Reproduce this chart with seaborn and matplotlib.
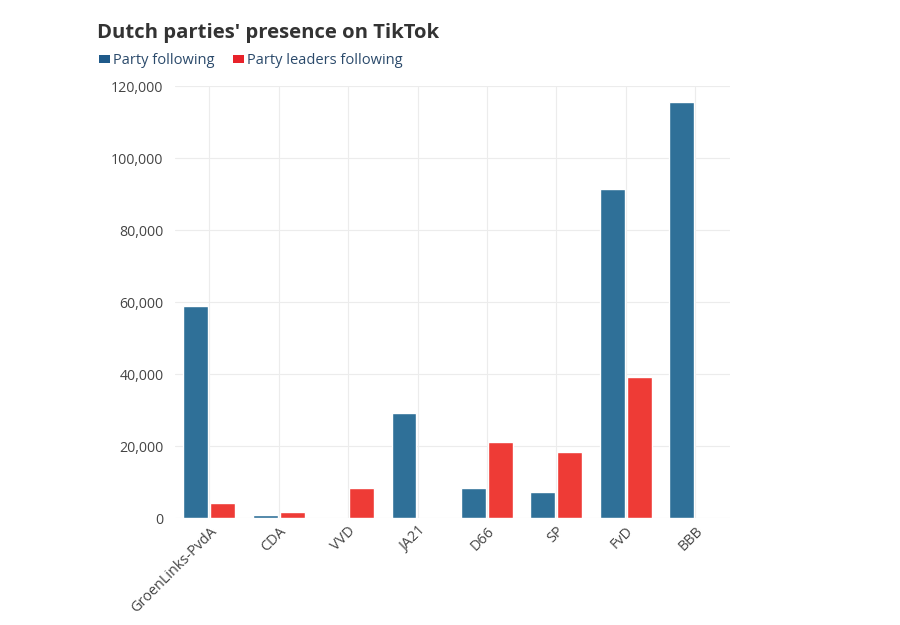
import matplotlib
matplotlib.use("Agg")
import matplotlib.pyplot as plt
import seaborn as sns
import pandas as pd
from matplotlib.patches import Patch
from matplotlib.ticker import FuncFormatter

parties = ["GroenLinks-PvdA", "CDA", "VVD", "JA21", "D66", "SP", "FvD", "BBB"]
party_following = [59000, 800, 0, 29200, 8300, 7200, 91400, 115600]
leader_following = [4200, 1600, 8300, 0, 21100, 18300, 39200, 0]
series = ["Party following", "Party leaders following"]
colors = ["#2f7098", "#ee3b36"]
legend_colors = ["#1f5a8a", "#e8222a"]

df = pd.DataFrame({
    "party": parties * 2,
    "series": [series[0]] * len(parties) + [series[1]] * len(parties),
    "value": party_following + leader_following,
})

sns.set_theme(style="white")
plt.rcParams["font.family"] = ["Open Sans", "DejaVu Sans"]

fig = plt.figure(figsize=(9, 6.25), dpi=100)
ax = fig.add_axes([0.194, 0.171, 0.617, 0.691])

sns.barplot(data=df, x="party", y="value", hue="series", palette=colors,
            width=0.78, gap=0.08, ax=ax, legend=False, saturation=1)

ax.set_ylim(0, 120000)
ax.set_xlim(-0.5, len(parties) - 0.5)
ax.set_yticks(range(0, 120001, 20000))
ax.yaxis.set_major_formatter(FuncFormatter(lambda v, p: f"{int(v):,}"))
ax.set_xlabel("")
ax.set_ylabel("")
for s in ax.spines.values():
    s.set_visible(False)
ax.grid(True, axis="both", color="#ececec", linewidth=0.8)
ax.set_axisbelow(True)
ax.tick_params(axis="y", labelsize=10.2, colors="#444444", length=0, pad=8)
ax.tick_params(axis="x", labelsize=10.4, colors="#444444", length=0, pad=4)
plt.setp(ax.get_xticklabels(), rotation=45, ha="right", rotation_mode="anchor")

fig.text(0.108, 0.947, "Dutch parties' presence on TikTok", fontsize=14.6,
         fontweight="bold", color="#333333", va="center", ha="left")

handles = [Patch(facecolor=c, edgecolor="none") for c in legend_colors]
fig.legend(handles, series, loc="center left", bbox_to_anchor=(0.110, 0.903),
           ncol=2, frameon=False, fontsize=10.5, handlelength=0.75,
           handleheight=0.5, handletextpad=0.2, columnspacing=1.3,
           labelcolor="#2b4a6b", borderaxespad=0, borderpad=0)

fig.savefig("out.png", dpi=100, facecolor="white")
